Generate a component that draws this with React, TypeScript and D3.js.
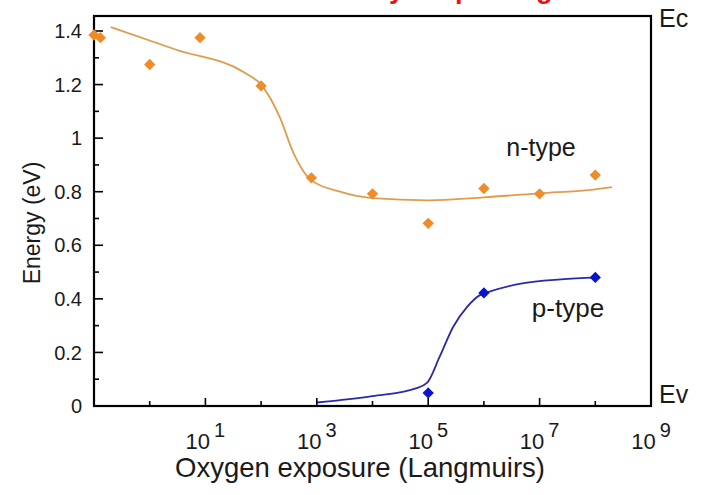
import React from "react";
import * as d3 from "d3";

// n-type measured points
const nExposure = [0.1, 0.13, 1, 8, 100, 800, 1e4, 1e5, 1e6, 1e7, 1e8];
const nEnergy = [1.385, 1.375, 1.275, 1.375, 1.195, 0.852, 0.792, 0.682, 0.812, 0.792, 0.862];
// n-type fitted curve
const nFitExposure = [0.2, 3, 50, 100, 220, 380, 770, 2600, 1e4, 1e5, 1e6, 1e7, 1e8, 2e8];
const nFitEnergy = [1.415, 1.33, 1.245, 1.2, 1.075, 0.945, 0.845, 0.8, 0.776, 0.768, 0.779, 0.794, 0.809, 0.817];
// p-type measured points
const pExposure = [1e5, 1e6, 1e8];
const pEnergy = [0.049, 0.422, 0.48];
// p-type fitted curve
const pFitExposure = [1000, 1e4, 6e4, 9.5e4, 1.6e5, 2.8e5, 5e5, 8.5e5, 1.07e6, 4.6e6, 2.4e7, 1.07e8];
const pFitEnergy = [0.013, 0.037, 0.066, 0.086, 0.183, 0.295, 0.37, 0.414, 0.422, 0.457, 0.473, 0.48];

const xTickExps = [0, 1, 2, 3, 4, 5, 6, 7, 8];
const xLabelExps = [1, 3, 5, 7, 9];
const yMajorTicks = [0, 0.2, 0.4, 0.6, 0.8, 1, 1.2, 1.4];
const yMinorTicks = [0.1, 0.3, 0.5, 0.7, 0.9, 1.1, 1.3];

const W = 705, H = 495;
const L = 94, R = 651, T = 16, B = 406;

export default function App() {
  const x = d3.scaleLog().domain([0.1, 1e9]).range([L, R]);
  const y = d3.scaleLinear().domain([0, 1.456]).range([B, T]);

  const line = d3
    .line<[number, number]>()
    .x((d) => x(d[0]))
    .y((d) => y(d[1]))
    .curve(d3.curveMonotoneX);

  const nFit = nFitExposure.map((e, i) => [e, nFitEnergy[i]] as [number, number]);
  const pFit = pFitExposure.map((e, i) => [e, pFitEnergy[i]] as [number, number]);
  const diamond = d3.symbol().type(d3.symbolSquare).size(64)()!;

  const orange = "#EE8C2A";
  const orangeLine = "#E09C4C";
  const blue = "#0A14D0";
  const blueLine = "#2A2AA8";
  const font = "Liberation Sans, Arial, sans-serif";
  const textCol = "#1a1a1a";

  return (
    <svg width={W} height={H} style={{ position: "absolute", left: 0, top: 0 }} fontFamily={font}>
      <rect width={W} height={H} fill="#fff" />
      {/* cut-off red title (only descenders visible) */}
      <text x={224} y={-2.5} fill="#f01010" fontSize={27} fontWeight="bold">
        Fermi level by O2 pinning
      </text>

      {/* fit curves */}
      <path d={line(nFit)!} fill="none" stroke={orangeLine} strokeWidth={1.8} />
      <path d={line(pFit)!} fill="none" stroke={blueLine} strokeWidth={1.8} />

      {/* y ticks */}
      {yMajorTicks.map((v) => (
        <g key={"ym" + v}>
          <line x1={L} x2={L + 9} y1={y(v)} y2={y(v)} stroke="#000" strokeWidth={1.6} />
          <text x={82} y={y(v)} dy="0.36em" textAnchor="end" fontSize={20} fill={textCol}>
            {String(v)}
          </text>
        </g>
      ))}
      {yMinorTicks.map((v) => (
        <line key={"yn" + v} x1={L} x2={L + 5} y1={y(v)} y2={y(v)} stroke="#000" strokeWidth={1.6} />
      ))}

      {/* x ticks */}
      {xTickExps.map((e) => (
        <line
          key={"xt" + e}
          x1={x(Math.pow(10, e))}
          x2={x(Math.pow(10, e))}
          y1={B}
          y2={B - (e % 2 === 1 ? 8 : 5)}
          stroke="#000"
          strokeWidth={1.6}
        />
      ))}
      {xLabelExps.map((e) => (
        <text key={"xl" + e} x={x(Math.pow(10, e))} y={449} textAnchor="middle" fontSize={22} fill={textCol}>
          10
          <tspan dx={4} dy={-12} fontSize={20}>
            {e}
          </tspan>
        </text>
      ))}

      {/* frame */}
      <rect x={L} y={T} width={R - L} height={B - T} fill="none" stroke="#000" strokeWidth={2.2} />

      {/* points */}
      {nExposure.map((e, i) => (
        <path key={"np" + i} d={diamond} transform={`translate(${x(e)},${y(nEnergy[i])}) rotate(45)`} fill={orange} />
      ))}
      {pExposure.map((e, i) => (
        <path key={"pp" + i} d={diamond} transform={`translate(${x(e)},${y(pEnergy[i])}) rotate(45)`} fill={blue} />
      ))}

      {/* labels */}
      <text x={541} y={156} textAnchor="middle" fontSize={25} fill={textCol}>n-type</text>
      <text x={568} y={317} textAnchor="middle" fontSize={26} fill={textCol}>p-type</text>
      <text x={659} y={27} fontSize={25} fill={textCol}>Ec</text>
      <text x={659} y={403} fontSize={25} fill={textCol}>Ev</text>

      {/* axis titles */}
      <text x={360} y={477} textAnchor="middle" fontSize={27.5} fill={textCol}>
        Oxygen exposure (Langmuirs)
      </text>
      <text transform={`translate(40,223) rotate(-90)`} textAnchor="middle" fontSize={23} fill={textCol}>
        Energy (eV)
      </text>
    </svg>
  );
}
